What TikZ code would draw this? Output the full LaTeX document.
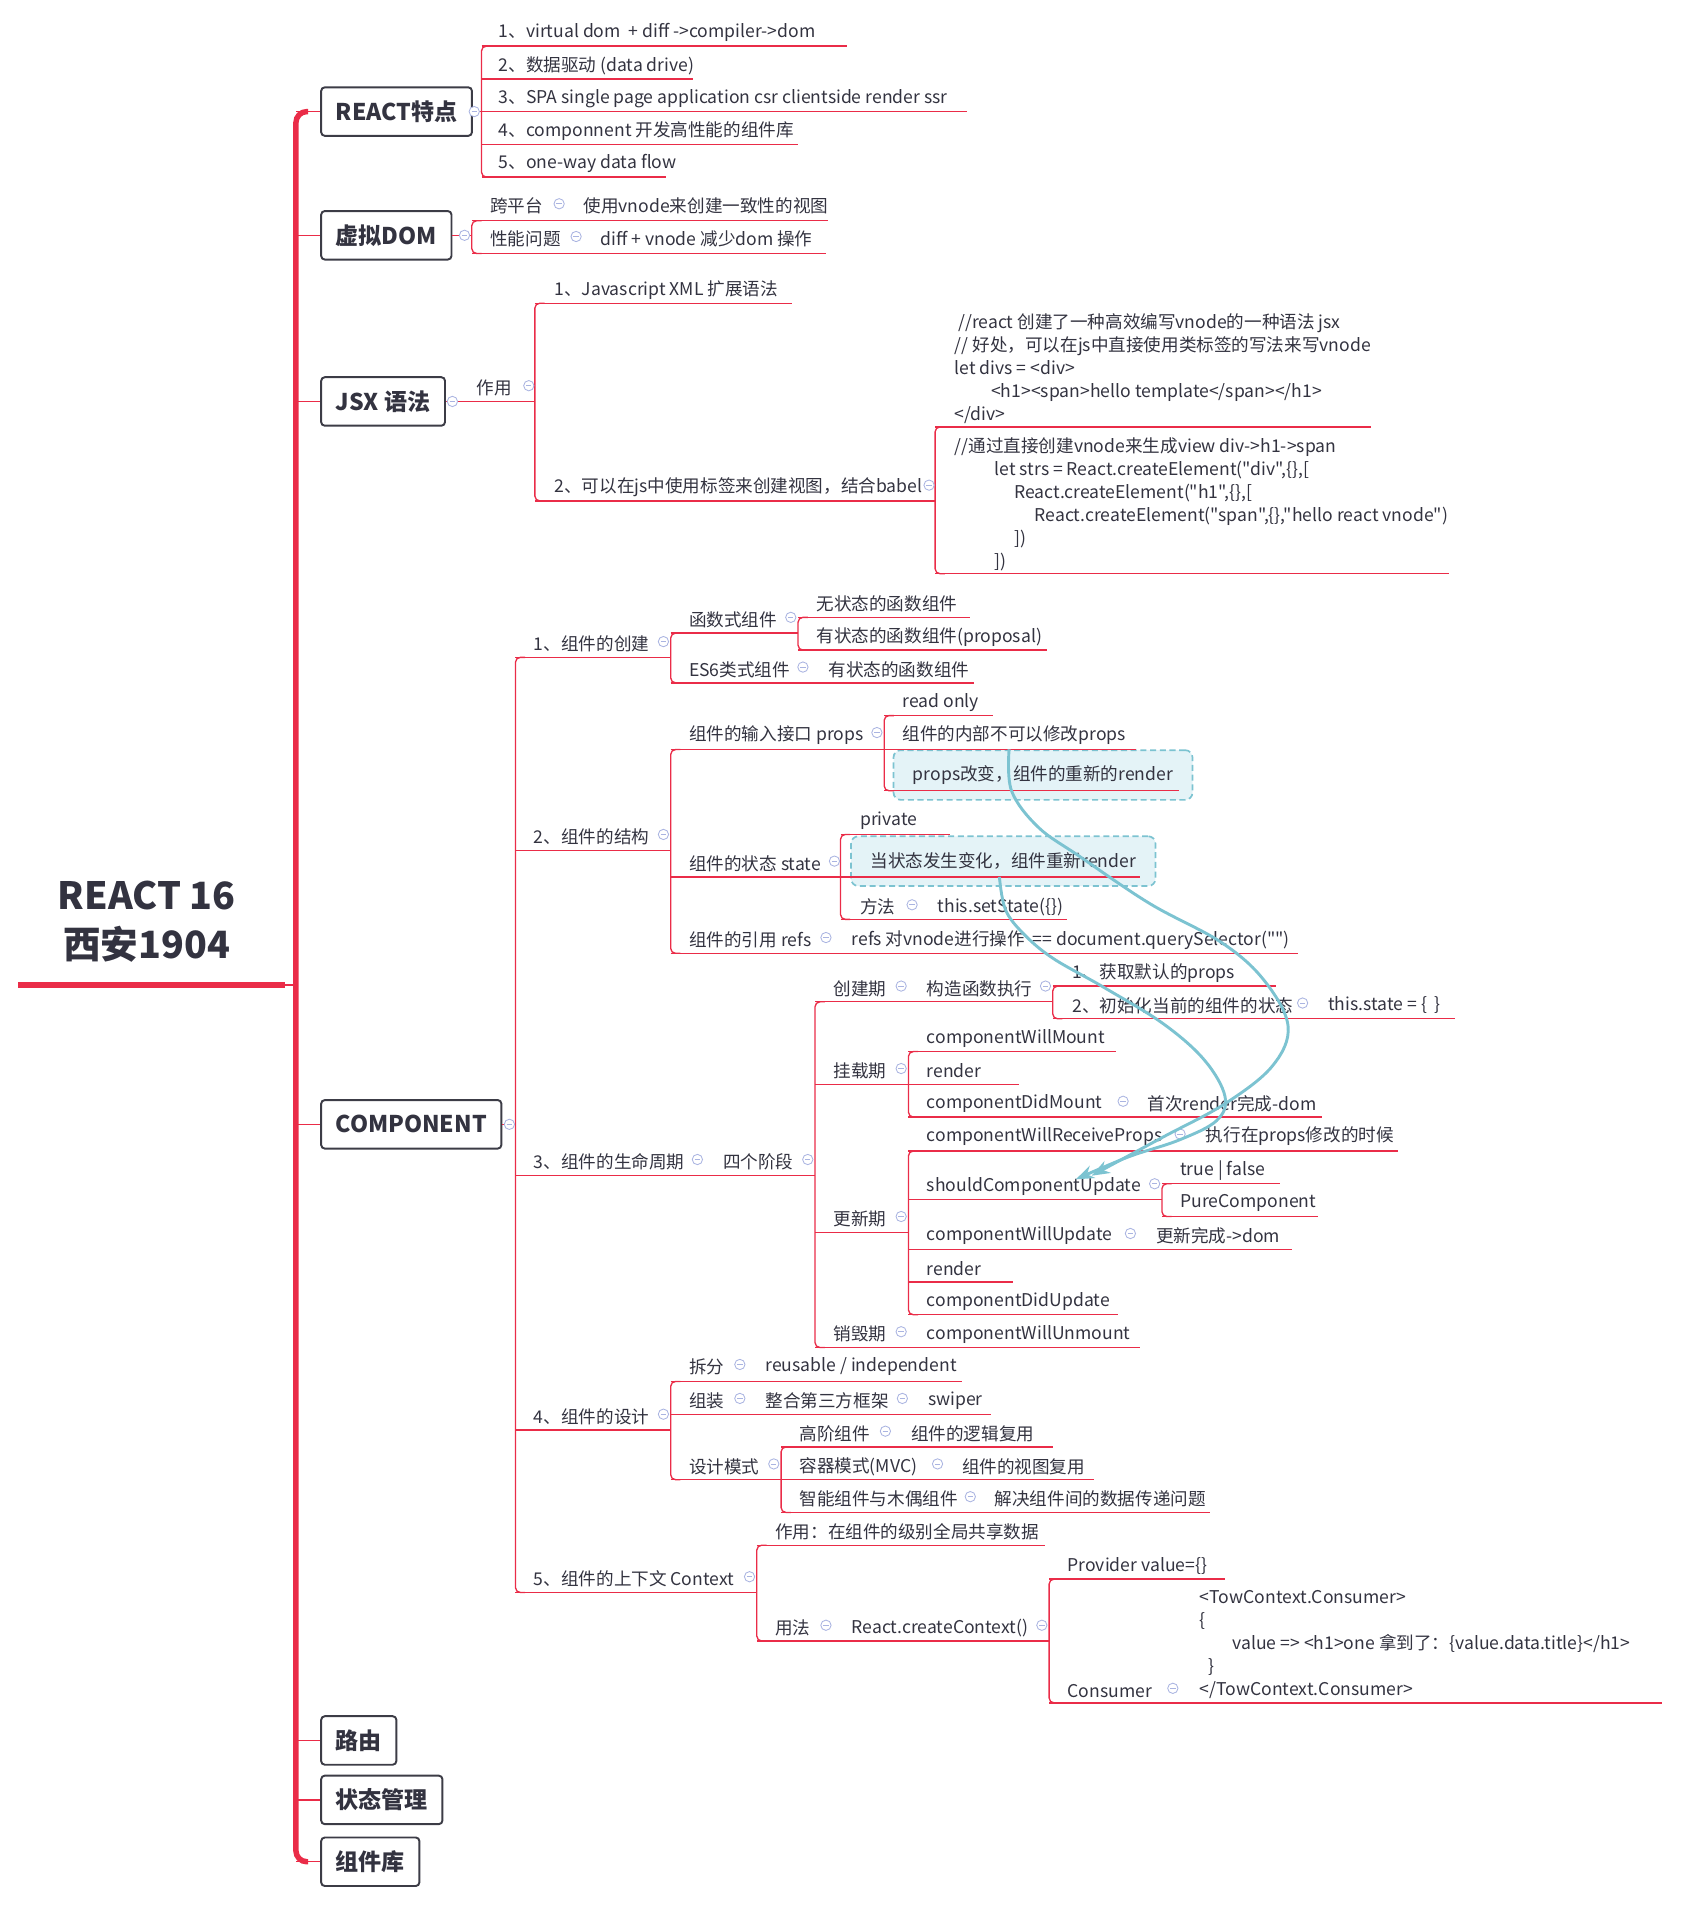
\documentclass[tikz,border=0pt]{standalone}
\usepackage{fontspec}
\setmainfont{Noto Sans CJK SC}[Ligatures=TeXOff]
\usetikzlibrary{arrows.meta,calc}

\definecolor{mapred}{RGB}{234,44,72}
\definecolor{ink}{RGB}{51,51,64}
\definecolor{edge}{RGB}{60,60,70}
\definecolor{foldblue}{RGB}{170,180,225}
\definecolor{relteal}{RGB}{124,195,209}
\definecolor{hotfill}{RGB}{228,243,247}

\tikzset{
  topic/.style={draw=edge, line width=1.6pt, rounded corners=3pt, anchor=west, minimum height=40pt,
    inner xsep=12pt, text=ink, font=\fontsize{19}{22}\selectfont\bfseries},
  leaf/.style={anchor=west, inner sep=0pt, yshift=-2pt, text=ink, font=\fontsize{14.5}{19}\selectfont},
  snippet/.style={leaf, align=left},
  branch/.style={draw=mapred, line width=1.1pt},
  elbow/.style={branch, rounded corners=4pt},
  spine/.style={draw=mapred, line width=4.5pt, rounded corners=9pt},
  fold/.style={circle, draw=foldblue, fill=white, line width=0.7pt, minimum size=8.5pt, inner sep=0pt},
  hot/.style={draw=relteal, dash pattern=on 5pt off 3pt, fill=hotfill, line width=1.4pt, rounded corners=6pt,
    anchor=west, minimum height=41pt, inner xsep=16pt, text=ink, font=\fontsize{14.5}{19}\selectfont},
  rel/.style={draw=relteal, line width=2.4pt, -{Stealth[length=15pt,width=11pt]}},
}

\begin{document}
\begin{tikzpicture}[x=1pt, y=-1pt]
\useasboundingbox (0,0) rectangle (1386,1571.5);

% highlighted boxes
\node[hot] (propsbox) at (736,639) {props改变，组件的重新的render};
\node[hot] (statebox) at (701,710) {当状态发生变化，组件重新render};

% root and spine
\node[text=ink, align=center, font=\fontsize{31}{41}\selectfont\bfseries] (root) at (121,760) {REACT 16\\西安1904};
\draw[mapred, line width=5pt] (15,812) -- (235,812);
\draw[branch] (235,812) -- (244,812);
\draw[spine] (254,92) -- (244,92) -- (244,1535) -- (254,1535);

\node[topic] (feat) at (264,92) {REACT特点};
\node[topic] (vdom) at (264,194) {虚拟DOM};
\node[topic] (jsx) at (264,331) {JSX 语法};
\node[topic] (comp) at (264,927) {COMPONENT};
\node[topic] (route) at (264,1435) {路由};
\node[topic] (store) at (264,1484) {状态管理};
\node[topic] (lib) at (264,1535) {组件库};

\foreach \t in {feat,vdom,jsx,comp,route,store,lib}
  \draw[branch] (\t.west) -- ++(-20,0);
\draw[branch] (feat.east) -- (397,92);
\draw[branch] (vdom.east) -- (389,194);
\draw[branch] (jsx.east) -- (441,331);
\draw[branch] (comp.east) -- (425,927);

% brackets
\foreach \xv/\ya/\yb in {397/38/146, 389/182/209, 441/250/413, 771/352/473, 425/542/1313,
    553/522/563, 658/509/536, 553/618/786, 729/590/652, 693/688/758, 672/826/1111,
    868/813/840, 749/867/921, 749/949/1084, 958/976/1003, 553/1139/1220, 644/1193/1247,
    624/1274/1353, 865/1302/1404}
  \draw[elbow] (\xv+8,\ya) -- (\xv,\ya) -- (\xv,\yb) -- (\xv+8,\yb);

% underlines
\foreach \y/\xa/\xb in {38/397/698, 65/397/571, 92/397/797, 119/397/658, 146/397/549,
    182/389/683, 209/389/681,
    250/441/653, 413/441/771, 352/771/1130, 473/771/1195,
    542/425/553, 701/425/553, 969/425/672, 1179/425/553, 1313/425/624,
    522/553/658, 563/553/803, 509/658/800, 536/658/863,
    618/553/937, 723/553/940, 786/553/1070, 590/729/819, 652/729/972, 688/693/783, 758/693/880,
    826/672/868, 894/672/840, 1016/672/749, 1111/672/940, 813/868/1052, 840/868/1200,
    867/749/920, 921/749/1090, 949/749/1153, 989/749/958, 1030/749/1065, 1057/749/835,
    1084/749/922, 976/958/1055, 1003/958/1087,
    1139/553/793, 1166/553/817, 1220/553/902, 1193/644/868, 1247/644/998,
    1274/624/862, 1353/624/865, 1302/865/1010, 1404/865/1370}
  \draw[branch] (\xa,\y) -- (\xb,\y);

% collapse markers
\foreach \x/\y [count=\i] in {391/92, 383/194, 461/168, 475/195, 373/331, 436/318, 766/400,
    420/927, 547/529, 652/509, 662/550, 547/688, 723/604, 688/710, 752/746, 681/773,
    575/956, 666/956, 743/813, 862/813, 1074/827, 743/881, 926/908, 743/1003, 973/935,
    952/976, 932/1017, 743/1098, 547/1166, 610/1125, 610/1153, 744/1153, 638/1207,
    730/1180, 773/1207, 800/1234, 618/1300, 681/1340, 859/1340, 967/1392} {
  \node[fold] (f\i) at (\x,\y) {};
  \draw[foldblue, line width=0.7pt] (\x-2.2,\y) -- (\x+2.2,\y);
}

% REACT特点
\node[leaf] (feat1) at (411,25) {1、virtual dom\ \ + diff ->compiler->dom};
\node[leaf] (feat2) at (411,52) {2、数据驱动 (data drive)};
\node[leaf] (feat3) at (411,79) {3、SPA single page application csr clientside render ssr};
\node[leaf] (feat4) at (411,106) {4、componnent 开发高性能的组件库};
\node[leaf] (feat5) at (411,133) {5、one-way data flow};

% 虚拟DOM
\node[leaf] (vdom1) at (404,168) {跨平台};
\node[leaf] (vdom1a) at (481,168) {使用vnode来创建一致性的视图};
\node[leaf] (vdom2) at (404,195) {性能问题};
\node[leaf] (vdom2a) at (495,195) {diff + vnode 减少dom 操作};

% JSX
\node[leaf] (jsxuse) at (393,318) {作用};
\node[leaf] (jsx1) at (457,237) {1、Javascript XML 扩展语法};
\node[leaf] (jsx2) at (457,400) {2、可以在js中使用标签来创建视图，结合babel};
\node[snippet] (jsxa) at (787,302) {\hspace*{3pt}//react 创建了一种高效编写vnode的一种语法 jsx\\// 好处，可以在js中直接使用类标签的写法来写vnode\\let divs = <div>\\\hspace*{30pt}<h1><span>hello template</span></h1>\\</div>};
\node[snippet] (jsxb) at (787,414) {//通过直接创建vnode来生成view div->h1->span\\\hspace*{33pt}let strs = React.createElement("div",\{\},[\\\hspace*{49pt}React.createElement("h1",\{\},[\\\hspace*{66pt}React.createElement("span",\{\},"hello react vnode")\\\hspace*{49pt}])\\\hspace*{33pt}])};

% COMPONENT 1
\node[leaf] (mk) at (440,529) {1、组件的创建};
\node[leaf] (mkfn) at (568,509) {函数式组件};
\node[leaf] (mkfn1) at (673,496) {无状态的函数组件};
\node[leaf] (mkfn2) at (673,523) {有状态的函数组件(proposal)};
\node[leaf] (mkcls) at (568,550) {ES6类式组件};
\node[leaf] (mkcls1) at (683,550) {有状态的函数组件};

% COMPONENT 2
\node[leaf] (st) at (440,688) {2、组件的结构};
\node[leaf] (stprops) at (568,604) {组件的输入接口 props};
\node[leaf] (stprops1) at (744,577) {read only};
\node[leaf] (stprops2) at (744,604) {组件的内部不可以修改props};
\node[leaf] (ststate) at (568,710) {组件的状态 state};
\node[leaf] (ststate1) at (709,675) {private};
\node[leaf] (ststate3) at (709,746) {方法};
\node[leaf] (ststate3a) at (773,746) {this.setState(\{\})};
\node[leaf] (strefs) at (568,773) {组件的引用 refs};
\node[leaf] (strefs1) at (702,773) {refs 对vnode进行操作\ \ == document.querySelector("")};

% COMPONENT 3
\node[leaf] (life) at (440,956) {3、组件的生命周期};
\node[leaf] (life4) at (596,956) {四个阶段};
\node[leaf] (born) at (687,813) {创建期};
\node[leaf] (borna) at (764,813) {构造函数执行};
\node[leaf] (born1) at (884,800) {1、获取默认的props};
\node[leaf] (born2) at (884,827) {2、初始化当前的组件的状态};
\node[leaf] (born2a) at (1095,827) {this.state = \{\ \ \}};
\node[leaf] (mount) at (687,881) {挂载期};
\node[leaf] (mount1) at (764,854) {componentWillMount};
\node[leaf] (mount2) at (764,881) {render};
\node[leaf] (mount3) at (764,908) {componentDidMount};
\node[leaf] (mount3a) at (946,908) {首次render完成-dom};
\node[leaf] (upd) at (687,1003) {更新期};
\node[leaf] (upd1) at (764,935) {componentWillReceiveProps};
\node[leaf] (upd1a) at (994,935) {执行在props修改的时候};
\node[leaf] (scu) at (764,976) {shouldComponentUpdate};
\node[leaf] (scu1) at (973,963) {true | false};
\node[leaf] (scu2) at (973,990) {PureComponent};
\node[leaf] (upd3) at (764,1017) {componentWillUpdate};
\node[leaf] (upd3a) at (953,1017) {更新完成->dom};
\node[leaf] (upd4) at (764,1044) {render};
\node[leaf] (upd5) at (764,1071) {componentDidUpdate};
\node[leaf] (kill) at (687,1098) {销毁期};
\node[leaf] (kill1) at (764,1098) {componentWillUnmount};

% COMPONENT 4
\node[leaf] (dsg) at (440,1166) {4、组件的设计};
\node[leaf] (dsg1) at (568,1125) {拆分};
\node[leaf] (dsg1a) at (631,1125) {reusable / independent};
\node[leaf] (dsg2) at (568,1153) {组装};
\node[leaf] (dsg2a) at (631,1153) {整合第三方框架};
\node[leaf] (dsg2b) at (765,1153) {swiper};
\node[leaf] (dsg3) at (568,1207) {设计模式};
\node[leaf] (hoc) at (659,1180) {高阶组件};
\node[leaf] (hoca) at (751,1180) {组件的逻辑复用};
\node[leaf] (mvc) at (659,1207) {容器模式(MVC)};
\node[leaf] (mvca) at (793,1207) {组件的视图复用};
\node[leaf] (smart) at (659,1234) {智能组件与木偶组件};
\node[leaf] (smarta) at (820,1234) {解决组件间的数据传递问题};

% COMPONENT 5
\node[leaf] (ctx) at (440,1300) {5、组件的上下文 Context};
\node[leaf] (ctx1) at (639,1261) {作用：在组件的级别全局共享数据};
\node[leaf] (ctx2) at (639,1340) {用法};
\node[leaf] (ctx2a) at (702,1340) {React.createContext()};
\node[leaf] (prov) at (880,1289) {Provider value=\{\}};
\node[leaf] (cons) at (880,1392) {Consumer};
\node[snippet] (consb) at (989,1354) {<TowContext.Consumer>\\\{\\\hspace*{27pt}value => <h1>one 拿到了：\{value.data.title\}</h1>\\\hspace*{7pt}\}\\</TowContext.Consumer>};

% relations
\coordinate (pfrom) at ($(propsbox.north west)+(96,0)$);
\coordinate (sfrom) at ($(statebox.west)+(123,13)$);
\coordinate (pto) at ($(scu.north west)+(136,-1)$);
\coordinate (sto) at ($(scu.north west)+(123,2)$);
\draw[rel] plot[smooth, tension=0.6] coordinates {(pfrom) (834,652) (856,682) (890,706) (948,745)
  (1007,777) (1042,808) (1062,846) (1049,879) (1010,910) (958,938) (pto)};
\draw[rel] plot[smooth, tension=0.6] coordinates {(sfrom) (829,750) (844,770) (868,790) (910,814)
  (959,844) (993,874) (1010,904) (1003,924) (972,940) (930,954) (sto)};
\end{tikzpicture}
\end{document}
